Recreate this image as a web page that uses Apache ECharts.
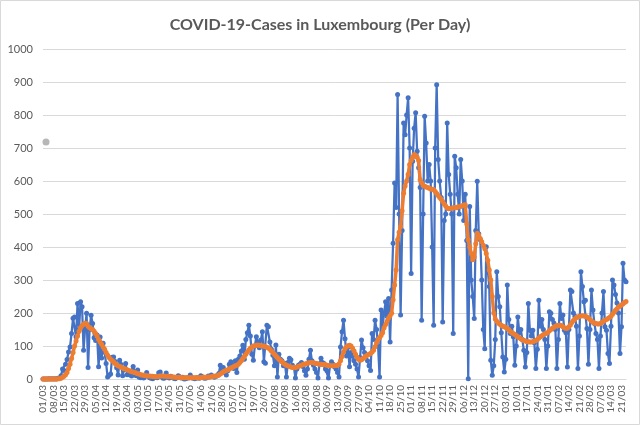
<!DOCTYPE html>
<html>
<head>
<meta charset="utf-8">
<script src="https://cdn.jsdelivr.net/npm/echarts@6/dist/echarts.min.js"></script>
<style>
html,body{margin:0;padding:0;background:#fff;}
#chart{width:640px;height:425px;}
</style>
</head>
<body>
<div id="chart"></div>
<script>
// Categories: daily dates 01/03/2020 .. 24/03/2021
var startDate = Date.UTC(2020, 2, 1);
var dayCount = 389;
var categories = [];
for (var i = 0; i < dayCount; i++) {
  var d = new Date(startDate + i * 86400000);
  var dd = ('0' + d.getUTCDate()).slice(-2);
  var mm = ('0' + (d.getUTCMonth() + 1)).slice(-2);
  categories.push(dd + '/' + mm);
}
var labelStep = 7;

var yTicks = [0, 100, 200, 300, 400, 500, 600, 700, 800, 900, 1000];

// Daily cases (blue)
var dailyCases = [
  0,0,0,0,1,0,1,0,1,0,
  2,3,10,30,26,45,59,82,97,138,
  184,188,128,229,150,234,219,87,152,199,
  35,150,193,168,125,117,133,37,127,64,
  108,81,47,6,11,15,66,67,53,34,
  12,57,44,10,29,47,13,17,12,9,
  38,22,10,27,5,4,7,3,8,20,
  8,4,2,1,5,6,4,19,21,6,
  2,3,18,8,3,8,5,2,1,4,
  10,7,3,5,0,1,4,3,12,4,
  2,1,3,4,2,10,7,3,2,4,
  9,6,12,8,5,8,10,17,42,30,
  35,20,12,25,45,52,44,32,55,20,
  60,70,85,102,60,120,140,163,130,75,
  57,100,128,112,95,118,143,52,48,163,
  158,112,90,72,40,103,6,75,60,55,
  40,48,6,50,63,58,42,35,3,30,
  42,45,50,38,25,11,30,60,87,55,
  42,30,20,3,45,63,50,47,30,25,
  3,40,52,45,37,30,20,6,97,143,
  178,122,70,97,37,80,70,55,45,30,
  6,65,118,95,80,70,55,40,26,138,
  120,178,150,100,6,209,160,200,234,190,
  244,112,270,411,594,520,862,500,194,450,
  776,740,800,852,700,320,660,760,807,690,
  640,580,178,500,796,715,600,650,600,400,
  163,700,892,665,600,550,173,480,500,776,
  620,560,500,138,675,640,560,500,665,600,
  480,560,420,1,523,300,250,183,450,599,
  440,422,300,150,92,401,330,280,57,11,
  40,120,325,250,219,140,67,21,60,285,
  180,138,160,128,42,100,188,140,150,120,
  87,36,80,229,148,130,148,110,32,90,
  239,160,180,150,120,32,100,204,199,180,
  170,150,32,120,229,183,194,148,140,36,
  150,270,265,200,190,160,32,130,325,280,
  234,239,153,45,150,270,209,168,138,120,
  32,130,200,265,158,148,77,47,160,300,
  285,256,230,200,77,158,351,300,295
];

// Average line (orange)
var averageCases = [
  0,0,0,0,0,0,0,0,0,0,
  1,1,2,5,8,13,20,32,45,62,
  80,100,115,130,145,155,162,166,169,168,
  160,155,152,150,145,138,130,120,112,105,
  97,90,80,72,65,60,56,52,47,43,
  40,38,36,33,31,30,28,26,24,22,
  21,20,18,16,15,13,12,11,10,10,
  9,9,8,8,7,7,7,8,9,9,
  9,8,8,8,7,7,6,6,5,5,
  5,5,4,4,4,4,4,4,4,4,
  4,4,4,4,4,4,5,5,5,5,
  6,6,7,8,8,9,10,12,15,18,
  22,24,26,28,30,33,35,38,40,42,
  45,50,55,62,68,75,82,88,93,97,
  100,101,102,103,102,101,100,100,98,96,
  94,90,85,80,75,70,65,60,56,52,
  48,45,42,40,38,36,35,34,35,36,
  38,40,42,44,45,46,48,49,50,50,
  49,48,47,46,45,45,44,44,43,42,
  41,40,40,40,40,41,42,45,55,68,
  82,92,98,101,102,100,93,85,75,66,
  60,57,58,62,66,70,73,75,77,82,
  87,98,110,120,125,132,140,155,165,175,
  185,192,199,240,285,330,422,445,462,510,
  563,585,600,620,650,662,672,680,678,672,
  662,604,595,586,584,582,580,578,576,575,
  574,568,562,556,550,545,538,530,524,518,
  516,517,518,518,520,519,521,522,523,525,
  527,528,470,422,400,380,361,370,410,442,
  436,426,416,405,395,380,360,330,300,250,
  200,182,175,170,166,163,160,158,156,153,
  150,144,140,138,135,132,128,125,122,119,
  117,115,113,113,112,112,113,115,117,120,
  124,128,131,134,137,139,141,146,150,154,
  157,160,162,161,163,162,158,155,153,154,
  158,164,171,177,182,186,188,190,191,192,
  191,190,188,185,180,176,172,170,168,167,
  167,168,171,175,178,180,183,186,190,196,
  202,208,213,218,221,224,228,232,235
];

// Single grey point
var greyIndex = [2];
var greyValue = [718];

var greyData = greyIndex.map(function (idx, k) { return [idx, greyValue[k]]; });

var chart = echarts.init(document.getElementById('chart'), null, {renderer: 'canvas'});
var textColor = '#595959';
var font = 'Lato, "Open Sans", sans-serif';

chart.setOption({
  animation: false,
  backgroundColor: '#ffffff',
  graphic: [{
    type: 'rect', silent: true, z: -10,
    shape: {x: 0.5, y: 0.5, width: 639, height: 424},
    style: {fill: 'none', stroke: '#D9D9D9', lineWidth: 1}
  }],
  title: {
    text: 'COVID-19-Cases in Luxembourg (Per Day)',
    left: 'center',
    top: 12,
    textStyle: {fontFamily: font, fontWeight: 'bold', fontSize: 16, color: textColor}
  },
  grid: {left: 43, right: 14, top: 49, bottom: 46},
  xAxis: {
    type: 'category',
    data: categories,
    boundaryGap: false,
    axisLine: {lineStyle: {color: '#D9D9D9', width: 1}},
    axisTick: {show: false},
    splitLine: {show: false},
    axisLabel: {
      interval: function (index) { return index % labelStep === 0; },
      rotate: 90, color: textColor, fontSize: 10, lineHeight: 9,
      fontFamily: font, margin: 6,
      hideOverlap: false
    }
  },
  yAxis: {
    type: 'value',
    min: yTicks[0],
    max: yTicks[yTicks.length - 1],
    interval: 100,
    axisLine: {show: false},
    axisTick: {show: false},
    axisLabel: {
      color: textColor, fontSize: 11, fontFamily: font, margin: 10,
      formatter: function (v) { return String(v); }
    },
    splitLine: {lineStyle: {color: '#D9D9D9', width: 1}}
  },
  series: [
    {
      name: 'Daily',
      type: 'line',
      data: dailyCases,
      symbol: 'circle',
      symbolSize: 5,
      showAllSymbol: true,
      itemStyle: {color: '#4472C4'},
      lineStyle: {color: '#4472C4', width: 2.25},
      z: 2
    },
    {
      name: 'Average',
      type: 'line',
      data: averageCases,
      symbol: 'circle',
      symbolSize: 5,
      showAllSymbol: true,
      itemStyle: {color: '#ED7D31'},
      lineStyle: {color: '#ED7D31', width: 3.5},
      z: 3
    },
    {
      name: 'Other',
      type: 'scatter',
      data: greyData,
      symbol: 'circle',
      symbolSize: 7,
      itemStyle: {color: '#A5A5A5'},
      z: 4
    }
  ]
});
</script>
</body>
</html>
